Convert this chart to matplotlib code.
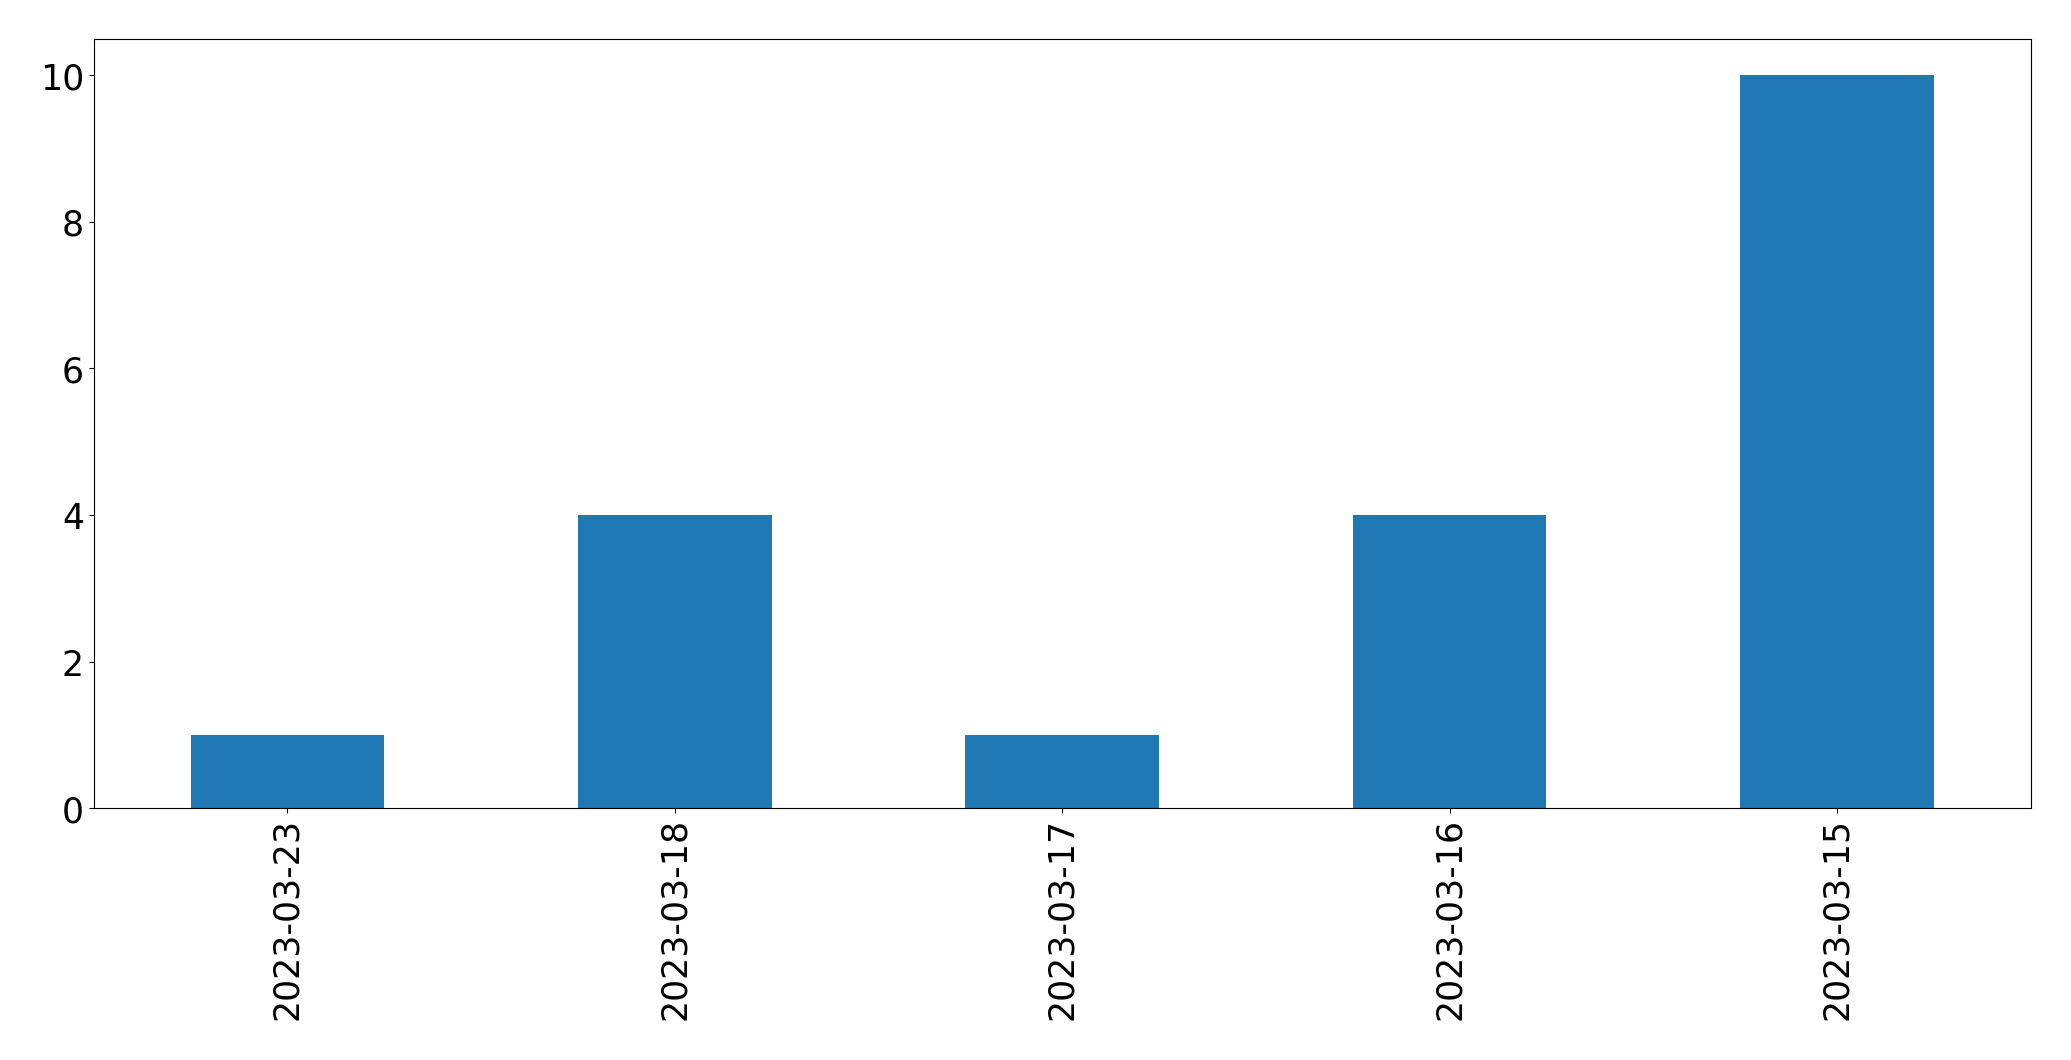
import pandas as pd
import matplotlib.pyplot as plt

# Counts per date
dates = ["2023-03-23", "2023-03-18", "2023-03-17", "2023-03-16", "2023-03-15"]
counts = [1, 4, 1, 4, 10]

s = pd.Series(counts, index=dates)

fig, ax = plt.subplots(figsize=(20.71, 10.605), dpi=100)
s.plot(kind="bar", ax=ax, color="#1f77b4")
ax.tick_params(axis="both", labelsize=25)
fig.subplots_adjust(left=0.0453, right=0.9805, top=0.963, bottom=0.2375)
fig.savefig("out.png", dpi=100)
